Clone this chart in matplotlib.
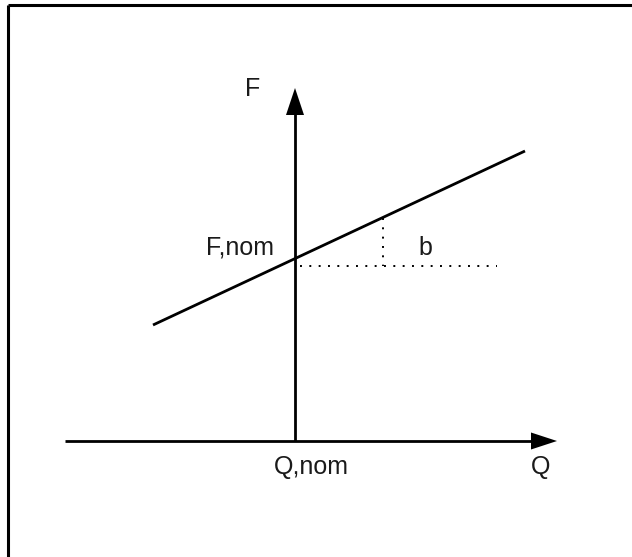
import matplotlib
matplotlib.use("Agg")
import matplotlib.pyplot as plt
from matplotlib.patches import Polygon

plt.rcParams['font.family'] = ['Liberation Sans', 'DejaVu Sans']

# Schematic geometry (pixel-like coordinate system, y downward)
origin = (295, 441)            # intersection of axes (Q,nom on Q axis)
q_axis_x = [65, 533]           # Q axis line extent
q_arrow_tip = 557
f_axis_y = [441, 113]          # F axis line extent
f_arrow_tip = 88
line_x = [153, 525]            # characteristic line F(Q)
line_y = [325, 151]
hdot_x = [300, 497]
hdot_y = 266
vdot_x = 383
vdot_y = [218, 266]

labels = {
    "F": (253, 89),
    "Q": (541, 467),
    "Q,nom": (311, 467),
    "F,nom": (274, 247),
    "b": (425, 248),
}

fig = plt.figure(figsize=(6.32, 5.57), dpi=100)
ax = fig.add_axes([0, 0, 1, 1])
ax.set_xlim(0, 632)
ax.set_ylim(557, 0)
ax.axis('off')

lw = 2.0
# border (top and left)
ax.plot([8, 632], [5, 5], color='black', lw=2.2, solid_capstyle='butt')
ax.plot([8, 8], [5, 557], color='black', lw=2.2, solid_capstyle='butt')

# Q axis
ax.plot(q_axis_x, [origin[1], origin[1]], color='black', lw=lw, solid_capstyle='butt')
ax.add_patch(Polygon([[q_axis_x[1] - 2, origin[1] - 8.5], [q_arrow_tip, origin[1]],
                      [q_axis_x[1] - 2, origin[1] + 8.5]], closed=True, color='black', lw=0))
# F axis
ax.plot([origin[0], origin[0]], f_axis_y, color='black', lw=lw, solid_capstyle='butt')
ax.add_patch(Polygon([[origin[0] - 9, f_axis_y[1] + 2], [origin[0], f_arrow_tip],
                      [origin[0] + 9, f_axis_y[1] + 2]], closed=True, color='black', lw=0))

# characteristic line
ax.plot(line_x, line_y, color='black', lw=lw, solid_capstyle='butt')

# dotted helpers
ax.plot(hdot_x, [hdot_y, hdot_y], color='black', lw=1.4, linestyle=(0, (1, 3.8)))
ax.plot([vdot_x, vdot_x], vdot_y, color='black', lw=1.4, linestyle=(0, (1, 3.8)))

fs = 18
tc = '#1a1a1a'
ax.text(*labels["F"], "F", fontsize=fs, ha='center', va='center', color=tc)
ax.text(*labels["Q"], "Q", fontsize=fs, ha='center', va='center', color=tc)
ax.text(*labels["Q,nom"], "Q,nom", fontsize=fs, ha='center', va='center', color=tc)
ax.text(*labels["F,nom"], "F,nom", fontsize=fs, ha='right', va='center', color=tc)
ax.text(*labels["b"], "b", fontsize=fs, ha='center', va='center', color=tc)

fig.savefig("out.png", dpi=100, facecolor='white')
